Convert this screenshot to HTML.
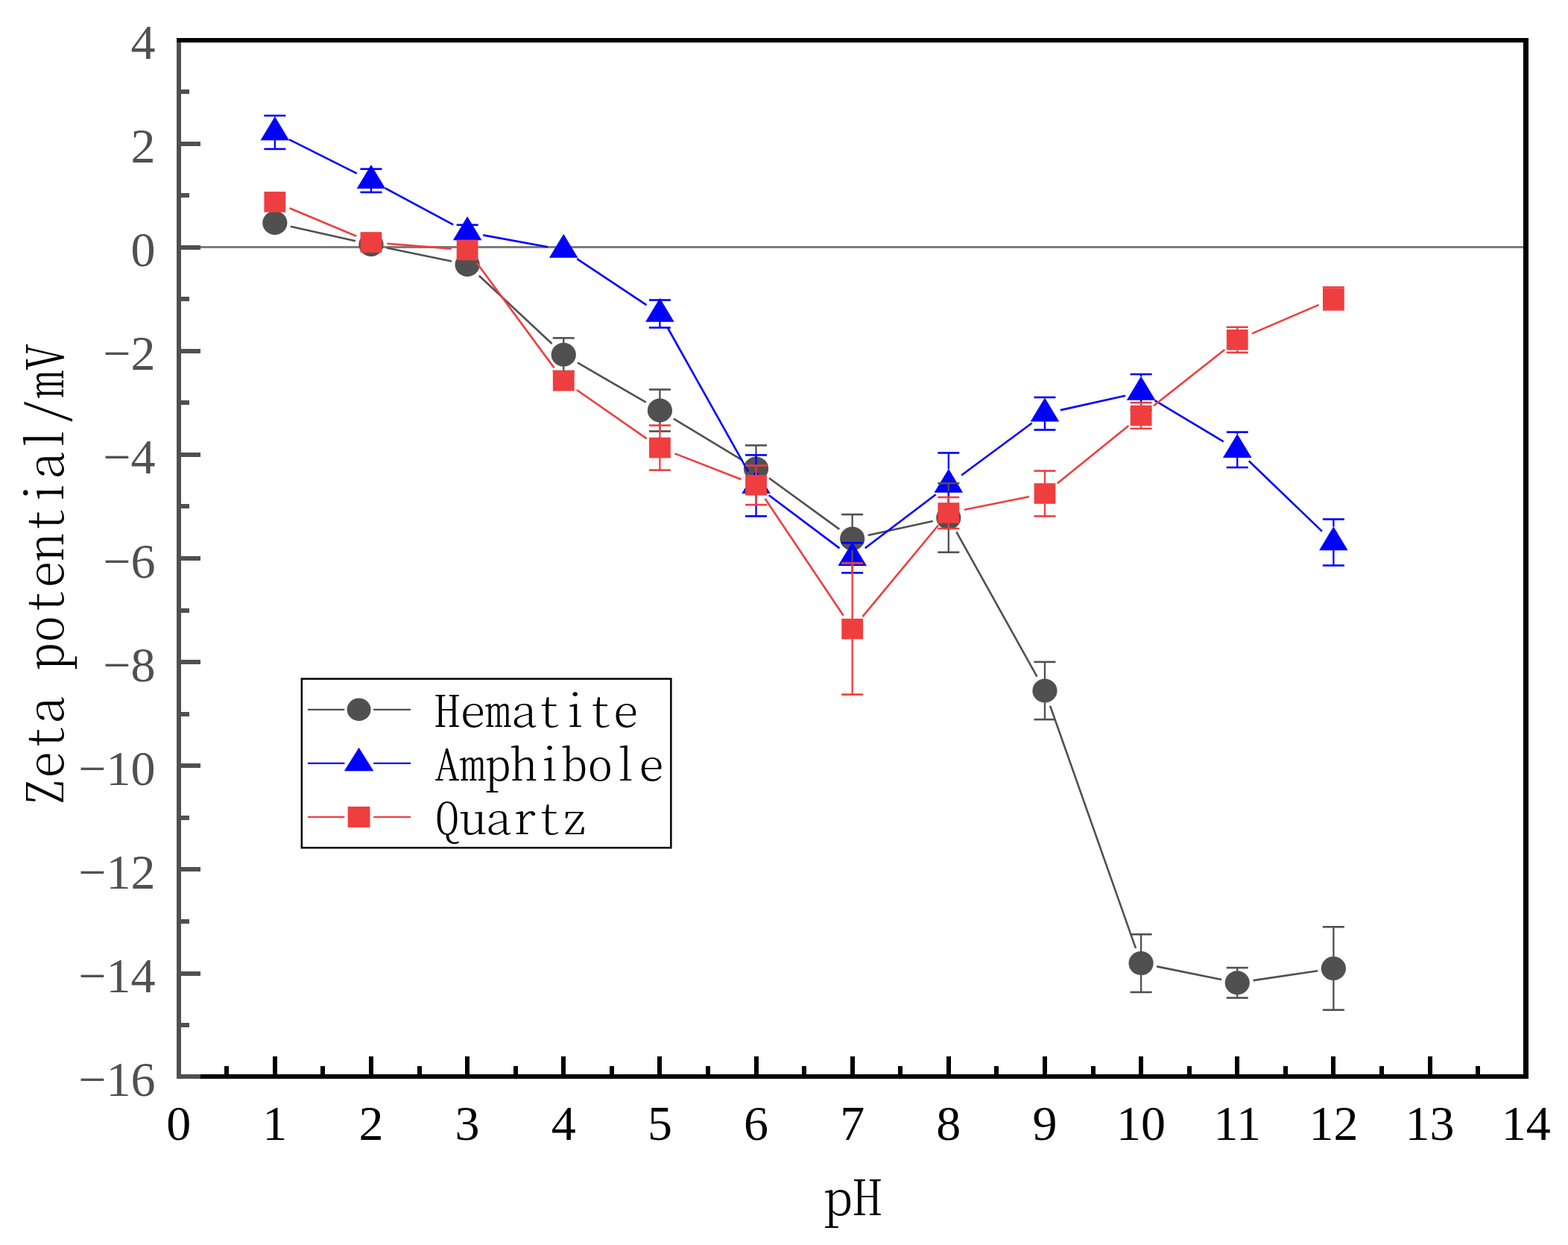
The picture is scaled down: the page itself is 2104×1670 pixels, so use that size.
<!DOCTYPE html>
<html><head><meta charset="utf-8"><title>Zeta potential vs pH</title>
<style>html,body{margin:0;padding:0;background:#fff;}body{width:2104px;height:1670px;overflow:hidden;}svg{display:block;}</style>
</head><body>
<svg width="2104" height="1670" viewBox="0 0 2104 1670">
<rect x="243" y="330" width="1801" height="3" fill="#7d7d7d"/>
<g stroke="#505050" stroke-width="2.6"><line x1="389.82" y1="303.71" x2="477" y2="323.29"/><line x1="519.02" y1="332.4" x2="606.08" y2="350.6"/><line x1="642.83" y1="369.68" x2="740.55" y2="461.02"/><line x1="774.86" y1="486.48" x2="866.8" y2="539.72"/><line x1="903.8" y1="561.63" x2="996.14" y2="617.47"/><line x1="1031.93" y1="641.24" x2="1126.29" y2="709.86"/><line x1="1164.69" y1="717.94" x2="1251.81" y2="699.06"/><line x1="1283.28" y1="713.29" x2="1391.5" y2="907.71"/><line x1="1409.12" y1="946.77" x2="1523.94" y2="1271.83"/><line x1="1552.17" y1="1296.37" x2="1639.17" y2="1314.03"/><line x1="1681.5" y1="1315.12" x2="1768.12" y2="1302.18"/></g>
<g fill="#505050"><ellipse cx="368.84" cy="299" rx="16.6" ry="16.0"/><ellipse cx="497.98" cy="328" rx="16.6" ry="16.0"/><ellipse cx="627.12" cy="355" rx="16.6" ry="16.0"/><ellipse cx="756.26" cy="475.7" rx="16.6" ry="16.0"/><ellipse cx="885.4" cy="550.5" rx="16.6" ry="16.0"/><ellipse cx="1014.54" cy="628.6" rx="16.6" ry="16.0"/><ellipse cx="1143.68" cy="722.5" rx="16.6" ry="16.0"/><ellipse cx="1272.82" cy="694.5" rx="16.6" ry="16.0"/><ellipse cx="1401.96" cy="926.5" rx="16.6" ry="16.0"/><ellipse cx="1531.1" cy="1292.1" rx="16.6" ry="16.0"/><ellipse cx="1660.24" cy="1318.3" rx="16.6" ry="16.0"/><ellipse cx="1789.38" cy="1299" rx="16.6" ry="16.0"/></g>
<g stroke="#0000FF" stroke-width="2.6"><line x1="388.06" y1="187.14" x2="478.76" y2="232.66"/><line x1="516.93" y1="252.45" x2="608.17" y2="301.35"/><line x1="648.27" y1="315.38" x2="735.11" y2="331.32"/><line x1="774.17" y1="347.1" x2="867.49" y2="409.1"/><line x1="895.91" y1="439.75" x2="1004.03" y2="632.65"/><line x1="1031.74" y1="664.3" x2="1126.48" y2="735.4"/><line x1="1160.8" y1="735.29" x2="1255.7" y2="663.21"/><line x1="1290.11" y1="637.43" x2="1384.67" y2="567.57"/><line x1="1422.94" y1="550.12" x2="1510.12" y2="530.68"/><line x1="1549.55" y1="537.04" x2="1641.79" y2="592.26"/><line x1="1675.74" y1="618.2" x2="1773.88" y2="712.6"/></g>
<path fill="#0000FF" d="M368.84 156.17L388.14 188.17L349.54 188.17ZM497.98 220.97L517.28 252.97L478.68 252.97ZM627.12 290.17L646.42 322.17L607.82 322.17ZM756.26 313.87L775.56 345.87L736.96 345.87ZM885.4 399.67L904.7 431.67L866.1 431.67ZM1014.54 630.07L1033.84 662.07L995.24 662.07ZM1143.68 726.97L1162.98 758.97L1124.38 758.97ZM1272.82 628.87L1292.12 660.87L1253.52 660.87ZM1401.96 533.47L1421.26 565.47L1382.66 565.47ZM1531.1 504.67L1550.4 536.67L1511.8 536.67ZM1660.24 581.97L1679.54 613.97L1640.94 613.97ZM1789.38 706.17L1808.68 738.17L1770.08 738.17Z"/>
<g fill="#505050"><rect x="755.11" y="453.4" width="2.3" height="6.8"/><rect x="755.11" y="491.2" width="2.3" height="6.8"/><rect x="741.76" y="452.1" width="29.0" height="2.6"/><rect x="741.76" y="496.7" width="29.0" height="2.6"/><rect x="884.25" y="522.5" width="2.3" height="12.5"/><rect x="884.25" y="566" width="2.3" height="12.5"/><rect x="870.9" y="521.2" width="29.0" height="2.6"/><rect x="870.9" y="577.2" width="29.0" height="2.6"/><rect x="1013.39" y="597.4" width="2.3" height="15.7"/><rect x="1013.39" y="644.1" width="2.3" height="15.7"/><rect x="1000.04" y="596.1" width="29.0" height="2.6"/><rect x="1000.04" y="658.5" width="29.0" height="2.6"/><rect x="1142.53" y="690.1" width="2.3" height="16.9"/><rect x="1142.53" y="738" width="2.3" height="16.9"/><rect x="1129.18" y="688.8" width="29.0" height="2.6"/><rect x="1129.18" y="753.6" width="29.0" height="2.6"/><rect x="1271.67" y="648.2" width="2.3" height="30.8"/><rect x="1271.67" y="710" width="2.3" height="30.8"/><rect x="1258.32" y="646.9" width="29.0" height="2.6"/><rect x="1258.32" y="739.5" width="29.0" height="2.6"/><rect x="1400.81" y="887.9" width="2.3" height="23.1"/><rect x="1400.81" y="942" width="2.3" height="23.1"/><rect x="1387.46" y="886.6" width="29.0" height="2.6"/><rect x="1387.46" y="963.8" width="29.0" height="2.6"/><rect x="1529.95" y="1253.3" width="2.3" height="23.3"/><rect x="1529.95" y="1307.6" width="2.3" height="23.3"/><rect x="1516.6" y="1252" width="29.0" height="2.6"/><rect x="1516.6" y="1329.6" width="29.0" height="2.6"/><rect x="1659.09" y="1298.1" width="2.3" height="4.7"/><rect x="1659.09" y="1333.8" width="2.3" height="4.7"/><rect x="1645.74" y="1296.8" width="29.0" height="2.6"/><rect x="1645.74" y="1337.2" width="29.0" height="2.6"/><rect x="1788.23" y="1243.3" width="2.3" height="40.2"/><rect x="1788.23" y="1314.5" width="2.3" height="40.2"/><rect x="1774.88" y="1242" width="29.0" height="2.6"/><rect x="1774.88" y="1353.4" width="29.0" height="2.6"/></g>
<g fill="#0000FF"><rect x="367.69" y="155.1" width="2.3" height="1.4"/><rect x="367.69" y="186" width="2.3" height="13.9"/><rect x="354.34" y="153.8" width="29.0" height="2.6"/><rect x="354.34" y="198.6" width="29.0" height="2.6"/><rect x="496.83" y="250.8" width="2.3" height="7.1"/><rect x="483.48" y="225.4" width="29.0" height="2.6"/><rect x="483.48" y="256.6" width="29.0" height="2.6"/><rect x="625.97" y="320" width="2.3" height="1.3"/><rect x="612.62" y="300.4" width="29.0" height="2.6"/><rect x="612.62" y="320" width="29.0" height="2.6"/><rect x="884.25" y="429.5" width="2.3" height="10"/><rect x="870.9" y="401.2" width="29.0" height="2.6"/><rect x="870.9" y="438.2" width="29.0" height="2.6"/><rect x="1013.39" y="610.4" width="2.3" height="20"/><rect x="1013.39" y="659.9" width="2.3" height="32.5"/><rect x="1000.04" y="609.1" width="29.0" height="2.6"/><rect x="1000.04" y="691.1" width="29.0" height="2.6"/><rect x="1142.53" y="756.8" width="2.3" height="11.6"/><rect x="1129.18" y="726.9" width="29.0" height="2.6"/><rect x="1129.18" y="767.1" width="29.0" height="2.6"/><rect x="1271.67" y="607.5" width="2.3" height="21.7"/><rect x="1271.67" y="658.7" width="2.3" height="34.2"/><rect x="1258.32" y="606.2" width="29.0" height="2.6"/><rect x="1258.32" y="691.6" width="29.0" height="2.6"/><rect x="1400.81" y="533" width="2.3" height="0.8"/><rect x="1400.81" y="563.3" width="2.3" height="13.3"/><rect x="1387.46" y="531.7" width="29.0" height="2.6"/><rect x="1387.46" y="575.3" width="29.0" height="2.6"/><rect x="1529.95" y="502" width="2.3" height="3"/><rect x="1529.95" y="534.5" width="2.3" height="15.5"/><rect x="1516.6" y="500.7" width="29.0" height="2.6"/><rect x="1516.6" y="548.7" width="29.0" height="2.6"/><rect x="1659.09" y="579.6" width="2.3" height="2.7"/><rect x="1659.09" y="611.8" width="2.3" height="15.2"/><rect x="1645.74" y="578.3" width="29.0" height="2.6"/><rect x="1645.74" y="625.7" width="29.0" height="2.6"/><rect x="1788.23" y="696.5" width="2.3" height="10"/><rect x="1788.23" y="736" width="2.3" height="22.5"/><rect x="1774.88" y="695.2" width="29.0" height="2.6"/><rect x="1774.88" y="757.2" width="29.0" height="2.6"/></g>
<g stroke="#EF3E3F" stroke-width="2.6"><line x1="388.67" y1="279.21" x2="478.15" y2="316.69"/><line x1="519.41" y1="326.73" x2="605.69" y2="333.67"/><line x1="639.87" y1="352.71" x2="743.51" y2="493.39"/><line x1="773.91" y1="522.98" x2="867.75" y2="588.32"/><line x1="905.44" y1="608.39" x2="994.5" y2="643.01"/><line x1="1026.5" y1="668.66" x2="1131.72" y2="825.74"/><line x1="1157.41" y1="827.06" x2="1259.09" y2="704.54"/><line x1="1293.9" y1="683.76" x2="1380.88" y2="666.24"/><line x1="1418.67" y1="648.48" x2="1514.39" y2="571.02"/><line x1="1547.99" y1="544.2" x2="1643.35" y2="469.1"/><line x1="1680" y1="447.32" x2="1769.62" y2="408.88"/></g>
<g fill="#EF3E3F"><rect x="354.44" y="257.1" width="28.8" height="27.6"/><rect x="483.58" y="311.2" width="28.8" height="27.6"/><rect x="612.72" y="321.6" width="28.8" height="27.6"/><rect x="741.86" y="496.9" width="28.8" height="27.6"/><rect x="871" y="586.8" width="28.8" height="27.6"/><rect x="1000.14" y="637" width="28.8" height="27.6"/><rect x="1129.28" y="829.8" width="28.8" height="27.6"/><rect x="1258.42" y="674.2" width="28.8" height="27.6"/><rect x="1387.56" y="648.2" width="28.8" height="27.6"/><rect x="1516.7" y="543.7" width="28.8" height="27.6"/><rect x="1645.84" y="442" width="28.8" height="27.6"/><rect x="1774.98" y="386.6" width="28.8" height="27.6"/></g>
<g fill="#EF3E3F"><rect x="884.25" y="570.6" width="2.3" height="16.5"/><rect x="884.25" y="614.1" width="2.3" height="16.5"/><rect x="870.9" y="569.3" width="29.0" height="2.6"/><rect x="870.9" y="629.3" width="29.0" height="2.6"/><rect x="1013.39" y="624.5" width="2.3" height="12.8"/><rect x="1013.39" y="664.3" width="2.3" height="12.8"/><rect x="1000.04" y="623.2" width="29.0" height="2.6"/><rect x="1000.04" y="675.8" width="29.0" height="2.6"/><rect x="1142.53" y="755.6" width="2.3" height="74.5"/><rect x="1142.53" y="857.1" width="2.3" height="74.5"/><rect x="1129.18" y="754.3" width="29.0" height="2.6"/><rect x="1129.18" y="930.3" width="29.0" height="2.6"/><rect x="1271.67" y="667" width="2.3" height="7.5"/><rect x="1271.67" y="701.5" width="2.3" height="7.5"/><rect x="1258.32" y="665.7" width="29.0" height="2.6"/><rect x="1258.32" y="707.7" width="29.0" height="2.6"/><rect x="1400.81" y="631.6" width="2.3" height="16.9"/><rect x="1400.81" y="675.5" width="2.3" height="16.9"/><rect x="1387.46" y="630.3" width="29.0" height="2.6"/><rect x="1387.46" y="691.1" width="29.0" height="2.6"/><rect x="1529.95" y="540.1" width="2.3" height="3.9"/><rect x="1529.95" y="571" width="2.3" height="3.9"/><rect x="1516.6" y="538.8" width="29.0" height="2.6"/><rect x="1516.6" y="573.6" width="29.0" height="2.6"/><rect x="1659.09" y="438.8" width="2.3" height="3.5"/><rect x="1659.09" y="469.3" width="2.3" height="3.5"/><rect x="1645.74" y="437.5" width="29.0" height="2.6"/><rect x="1645.74" y="471.5" width="29.0" height="2.6"/><rect x="1788.23" y="385.4" width="2.3" height="1.5"/><rect x="1788.23" y="413.9" width="2.3" height="1.5"/><rect x="1774.88" y="384.1" width="29.0" height="2.6"/><rect x="1774.88" y="414.1" width="29.0" height="2.6"/></g>
<rect x="237" y="1441" width="1814" height="6" fill="#000"/>
<g fill="#000"><rect x="301" y="1430" width="6" height="11"/><rect x="366" y="1417" width="6" height="24"/><rect x="430" y="1430" width="6" height="11"/><rect x="495" y="1417" width="6" height="24"/><rect x="560" y="1430" width="6" height="11"/><rect x="624" y="1417" width="6" height="24"/><rect x="689" y="1430" width="6" height="11"/><rect x="753" y="1417" width="6" height="24"/><rect x="818" y="1430" width="6" height="11"/><rect x="882" y="1417" width="6" height="24"/><rect x="947" y="1430" width="6" height="11"/><rect x="1012" y="1417" width="6" height="24"/><rect x="1076" y="1430" width="6" height="11"/><rect x="1141" y="1417" width="6" height="24"/><rect x="1205" y="1430" width="6" height="11"/><rect x="1270" y="1417" width="6" height="24"/><rect x="1334" y="1430" width="6" height="11"/><rect x="1399" y="1417" width="6" height="24"/><rect x="1464" y="1430" width="6" height="11"/><rect x="1528" y="1417" width="6" height="24"/><rect x="1593" y="1430" width="6" height="11"/><rect x="1657" y="1417" width="6" height="24"/><rect x="1722" y="1430" width="6" height="11"/><rect x="1786" y="1417" width="6" height="24"/><rect x="1851" y="1430" width="6" height="11"/><rect x="1916" y="1417" width="6" height="24"/><rect x="1980" y="1430" width="6" height="11"/></g>
<g fill="#505050"><rect x="237" y="54" width="6" height="1393"/><rect x="243" y="1441" width="26" height="6"/><rect x="243" y="1372" width="11" height="6"/><rect x="243" y="1303" width="26" height="6"/><rect x="243" y="1233" width="11" height="6"/><rect x="243" y="1163" width="26" height="6"/><rect x="243" y="1094" width="11" height="6"/><rect x="243" y="1024" width="26" height="6"/><rect x="243" y="955" width="11" height="6"/><rect x="243" y="885" width="26" height="6"/><rect x="243" y="816" width="11" height="6"/><rect x="243" y="746" width="26" height="6"/><rect x="243" y="676" width="11" height="6"/><rect x="243" y="607" width="26" height="6"/><rect x="243" y="537" width="11" height="6"/><rect x="243" y="468" width="26" height="6"/><rect x="243" y="398" width="11" height="6"/><rect x="243" y="329" width="26" height="6"/><rect x="243" y="259" width="11" height="6"/><rect x="243" y="190" width="26" height="6"/><rect x="243" y="120" width="11" height="6"/></g>
<rect x="237" y="51" width="1814" height="6" fill="#000"/>
<rect x="2044" y="51" width="7" height="1396" fill="#000"/>
<g font-family="'Liberation Serif', serif" font-size="66" fill="#505050" text-anchor="end"><text x="208.5" y="1470.16">−16</text><text x="208.5" y="1331.04">−14</text><text x="208.5" y="1191.92">−12</text><text x="208.5" y="1052.8">−10</text><text x="208.5" y="913.68">−8</text><text x="208.5" y="774.56">−6</text><text x="208.5" y="635.44">−4</text><text x="208.5" y="496.32">−2</text><text x="208.5" y="357.2">0</text><text x="208.5" y="218.08">2</text><text x="208.5" y="78.96">4</text></g>
<g font-family="'Liberation Serif', serif" font-size="66" fill="#000" text-anchor="middle"><text x="239.7" y="1529">0</text><text x="368.84" y="1529">1</text><text x="497.98" y="1529">2</text><text x="627.12" y="1529">3</text><text x="756.26" y="1529">4</text><text x="885.4" y="1529">5</text><text x="1014.54" y="1529">6</text><text x="1143.68" y="1529">7</text><text x="1272.82" y="1529">8</text><text x="1401.96" y="1529">9</text><text x="1531.1" y="1529">10</text><text x="1660.24" y="1529">11</text><text x="1789.38" y="1529">12</text><text x="1918.52" y="1529">13</text><text x="2047.66" y="1529">14</text></g>
<text font-family="'Noto Serif CJK SC', 'Liberation Mono', monospace" style="font-feature-settings:'hwid' 1;font-weight:200" font-size="63.7" fill="#000" text-anchor="middle" transform="translate(1144.5 1630) scale(1.22 1)">pH</text>
<text font-family="'Noto Serif CJK SC', 'Liberation Mono', monospace" style="font-feature-settings:'hwid' 1;font-weight:200" font-size="67" fill="#000" text-anchor="middle" transform="translate(85 770.8) rotate(-90) scale(1.0885 1)">Zeta potential/mV</text>
<rect x="404.85" y="910.55" width="495.5" height="226.6" fill="none" stroke="#000" stroke-width="2.5"/>
<g stroke="#505050" stroke-width="2.2"><line x1="413" y1="951.8" x2="462.3" y2="951.8"/><line x1="501.2" y1="951.8" x2="551.1" y2="951.8"/></g>
<ellipse cx="481.6" cy="951.8" rx="16" ry="15.3" fill="#505050"/>
<text font-family="'Noto Serif CJK SC', 'Liberation Mono', monospace" style="font-feature-settings:'hwid' 1;font-weight:200" font-size="58" fill="#000" transform="translate(583 975.0) scale(1.18 1)">Hematite</text>
<g stroke="#0000FF" stroke-width="2.2"><line x1="413" y1="1023.8" x2="462.3" y2="1023.8"/><line x1="501.2" y1="1023.8" x2="551.1" y2="1023.8"/></g>
<path fill="#0000FF" d="M481.6 1002.73L501.35 1034.33L461.85 1034.33Z"/>
<text font-family="'Noto Serif CJK SC', 'Liberation Mono', monospace" style="font-feature-settings:'hwid' 1;font-weight:200" font-size="58" fill="#000" transform="translate(583 1047.0) scale(1.18 1)">Amphibole</text>
<g stroke="#EF3E3F" stroke-width="2.2"><line x1="413" y1="1095.9" x2="462.3" y2="1095.9"/><line x1="501.2" y1="1095.9" x2="551.1" y2="1095.9"/></g>
<rect x="466.7" y="1081.95" width="29.8" height="27.9" fill="#EF3E3F"/>
<text font-family="'Noto Serif CJK SC', 'Liberation Mono', monospace" style="font-feature-settings:'hwid' 1;font-weight:200" font-size="58" fill="#000" transform="translate(583 1119.0) scale(1.18 1)">Quartz</text>
</svg>
</body></html>
